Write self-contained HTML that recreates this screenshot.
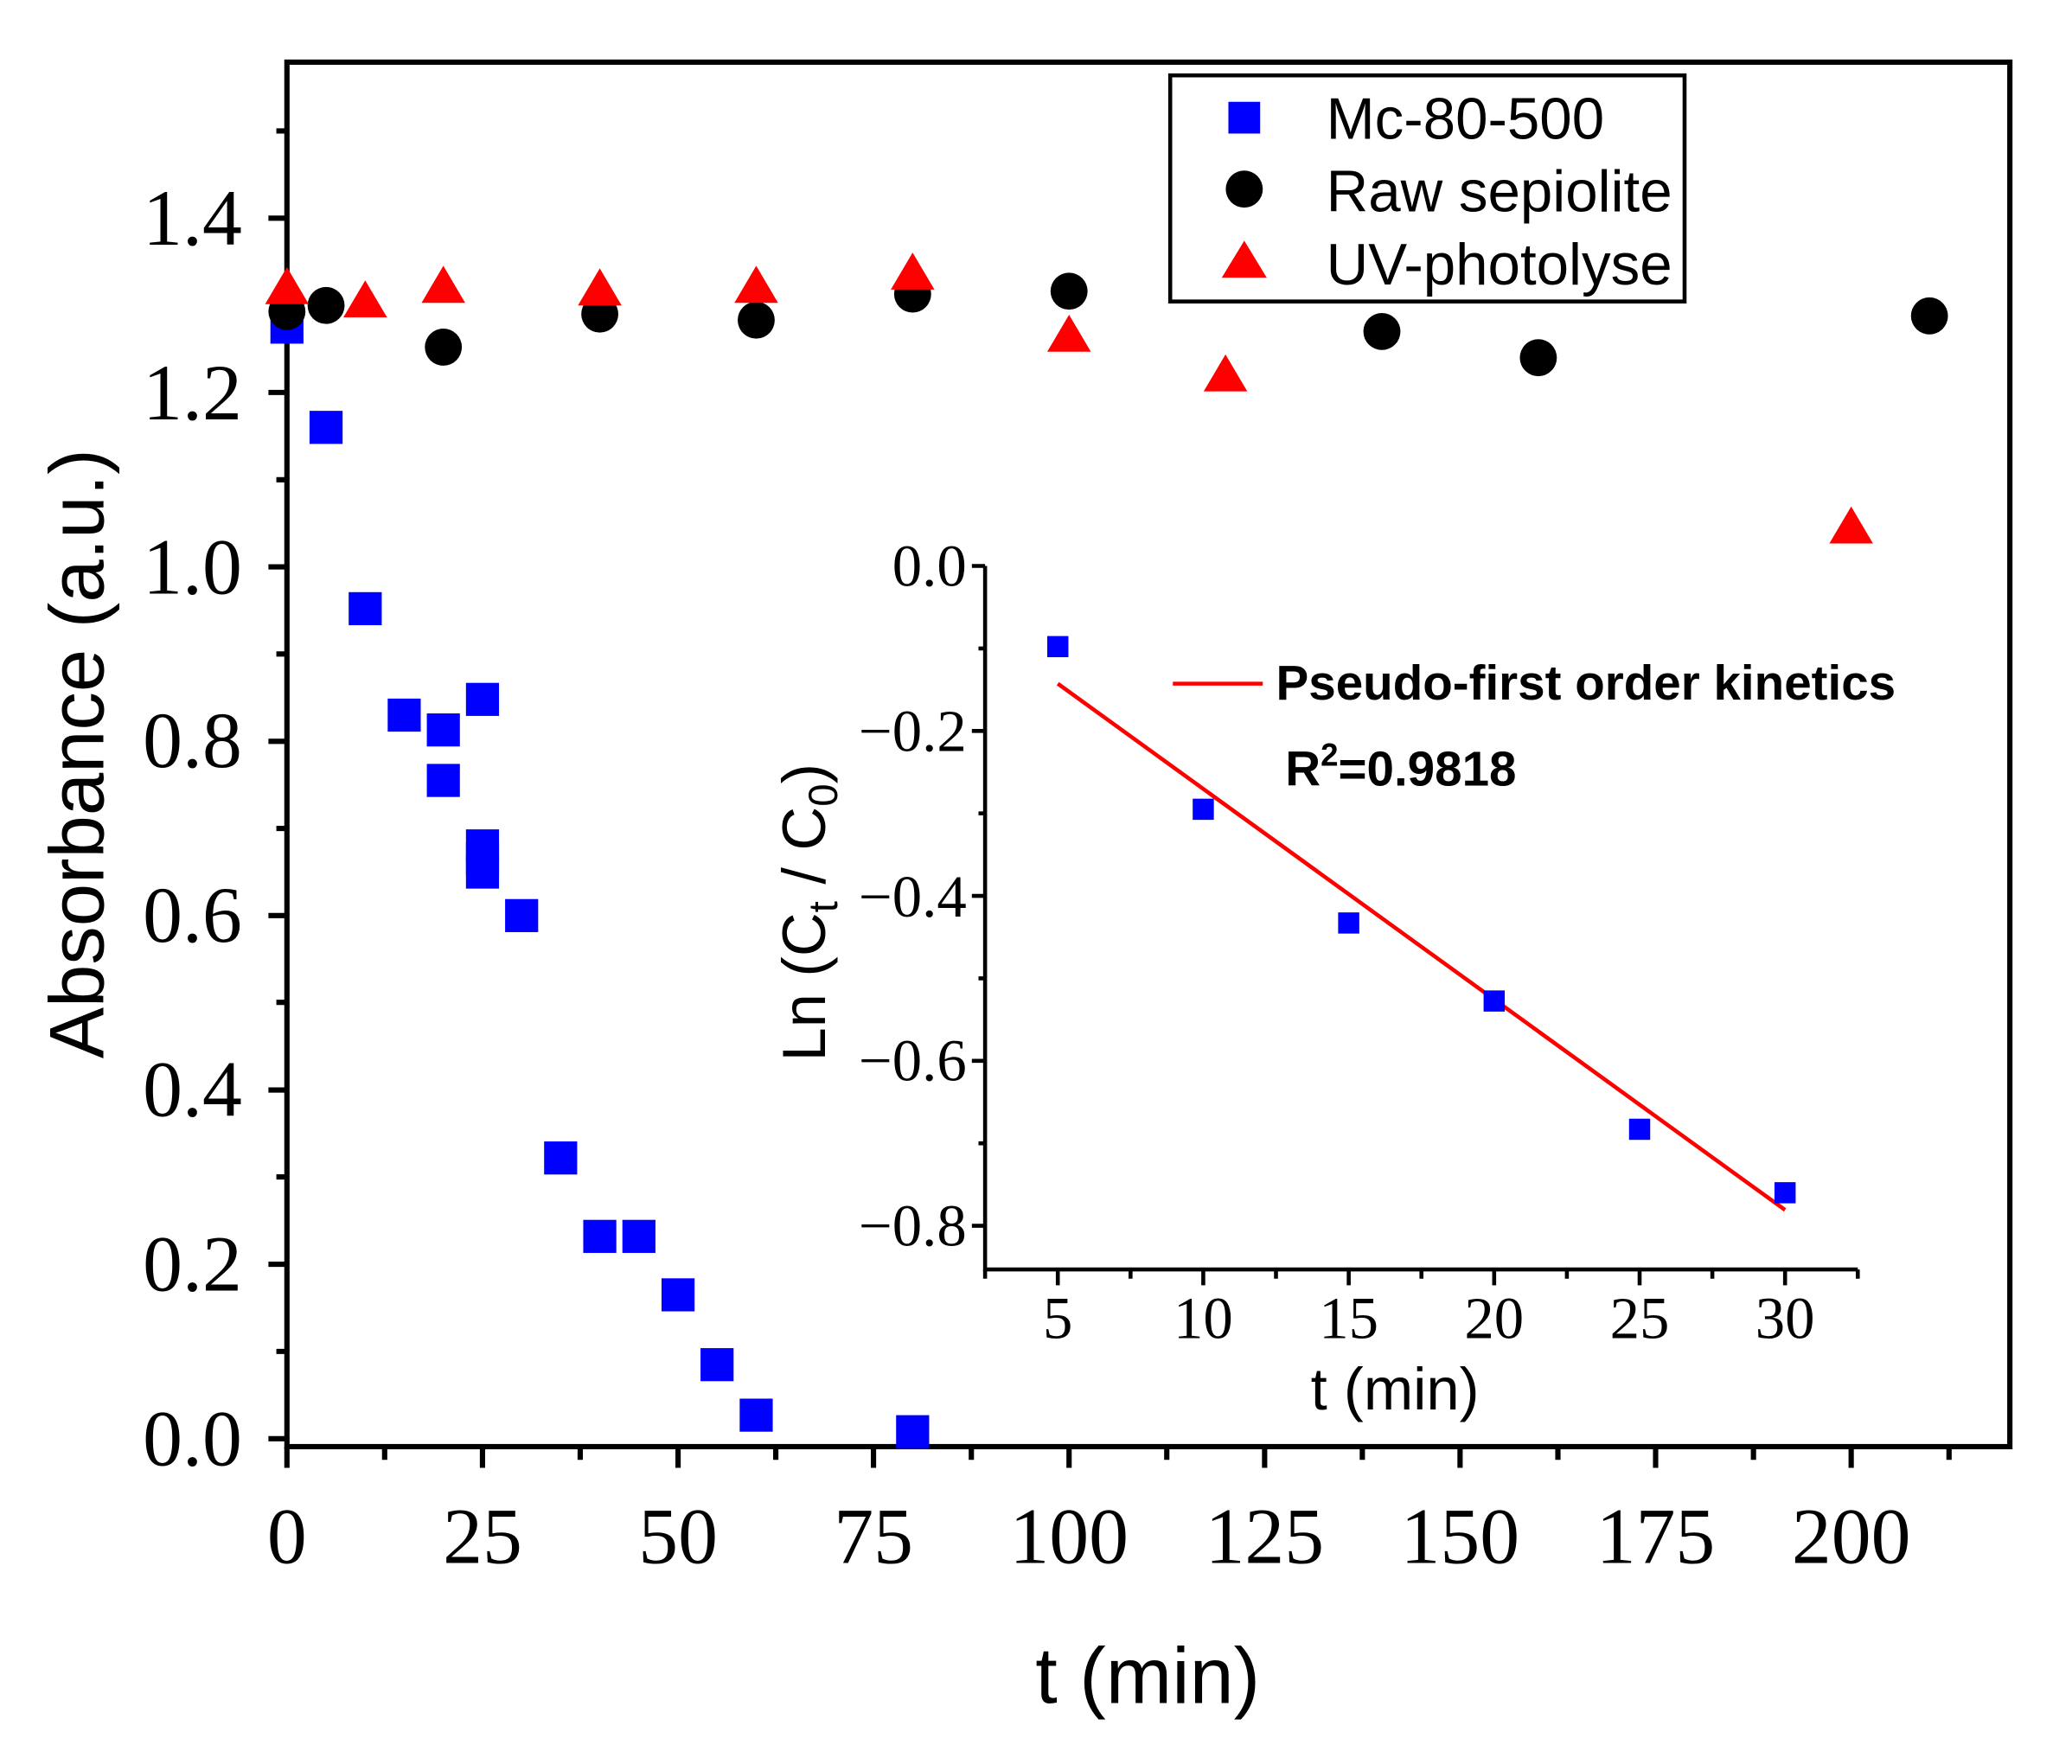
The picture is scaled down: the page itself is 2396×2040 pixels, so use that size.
<!DOCTYPE html>
<html><head><meta charset="utf-8"><style>
html,body{margin:0;padding:0;background:#fff}
svg{display:block}
.tm{font-family:"Liberation Serif",serif}
.sn{font-family:"Liberation Sans",sans-serif}
</style></head><body>
<svg width="2396" height="2040" viewBox="0 0 1567 1334" preserveAspectRatio="none" xmlns="http://www.w3.org/2000/svg">
<rect width="1567" height="1334" fill="#fff"/>
<rect x="217" y="47" width="1303" height="1047" fill="none" stroke="#000" stroke-width="4"/>
<g stroke="#000" stroke-width="4">
<path d="M203 1088H217M203 956.1H217M203 824.3H217M203 692.4H217M203 560.6H217M203 428.7H217M203 296.8H217M203 165H217"/>
<path d="M209 1022H217M209 890H217M209 758H217M209 626.5H217M209 494.6H217M209 362.8H217M209 231H217M209 99H217"/>
<path d="M217 1094V1110M364.9 1094V1110M512.8 1094V1110M660.6 1094V1110M808.5 1094V1110M956.4 1094V1110M1104.2 1094V1110M1252.1 1094V1110M1400 1094V1110"/>
<path d="M290.9 1094V1104M438.8 1094V1104M586.7 1094V1104M734.6 1094V1104M882.4 1094V1104M1030.3 1094V1104M1178.2 1094V1104M1326.1 1094V1104M1474 1094V1104"/>
</g>
<g class="tm" font-size="60" text-anchor="end" fill="#000">
<text x="183" y="1108">0.0</text><text x="183" y="976">0.2</text><text x="183" y="844">0.4</text><text x="183" y="712">0.6</text><text x="183" y="580">0.8</text><text x="183" y="449">1.0</text><text x="183" y="317">1.2</text><text x="183" y="185">1.4</text>
</g>
<g class="tm" font-size="60" text-anchor="middle" fill="#000">
<text x="217" y="1182">0</text><text x="364.9" y="1182">25</text><text x="512.8" y="1182">50</text><text x="660.6" y="1182">75</text><text x="808.5" y="1182">100</text><text x="956.4" y="1182">125</text><text x="1104.2" y="1182">150</text><text x="1252.1" y="1182">175</text><text x="1400" y="1182">200</text>
</g>
<text class="sn" font-size="60" text-anchor="middle" x="868" y="1288">t (min)</text>
<text class="sn" font-size="58" text-anchor="middle" transform="translate(78,570) rotate(-90)">Absorbance (a.u.)</text>

<g fill="#0000ff">
<rect x="204.5" y="234.9" width="25" height="25"/><rect x="234.1" y="310.7" width="25" height="25"/><rect x="263.7" y="447.8" width="25" height="25"/><rect x="293.2" y="528.3" width="25" height="25"/><rect x="322.8" y="539.5" width="25" height="25"/><rect x="322.8" y="577.7" width="25" height="25"/><rect x="352.4" y="516.4" width="25" height="25"/><rect x="352.4" y="627.2" width="25" height="25"/><rect x="352.4" y="637.1" width="25" height="25"/><rect x="352.4" y="647" width="25" height="25"/><rect x="382" y="679.9" width="25" height="25"/><rect x="411.5" y="863.2" width="25" height="25"/><rect x="441.1" y="922.5" width="25" height="25"/><rect x="470.7" y="922.5" width="25" height="25"/><rect x="500.3" y="966.7" width="25" height="25"/><rect x="529.8" y="1019.5" width="25" height="25"/><rect x="559.4" y="1057.7" width="25" height="25"/><rect x="677.7" y="1070.2" width="25" height="25"/>
</g>
<g fill="#000">
<circle cx="217" cy="235.6" r="14"/><circle cx="246.6" cy="231" r="14"/><circle cx="335.3" cy="262.5" r="14"/><circle cx="453.6" cy="237.5" r="14"/><circle cx="571.9" cy="242.1" r="14"/><circle cx="690.2" cy="222.4" r="14"/><circle cx="808.5" cy="220.2" r="14"/><circle cx="1045.1" cy="250.7" r="14"/><circle cx="1163.4" cy="270.5" r="14"/><circle cx="1459.2" cy="238.9" r="14"/>
</g>
<g fill="#ff0000">
<polygon points="200.5,230 233.5,230 217,202"/>
<polygon points="259.7,240 292.7,240 276.2,212"/>
<polygon points="318.8,229 351.8,229 335.3,201"/>
<polygon points="437.1,231 470.1,231 453.6,203"/>
<polygon points="555.4,229 588.4,229 571.9,201"/>
<polygon points="673.7,219 706.7,219 690.2,191"/>
<polygon points="792,266 825,266 808.5,238"/>
<polygon points="910.3,296 943.3,296 926.8,268"/>
<polygon points="1383.5,411 1416.5,411 1400,383"/>
</g>

<rect x="885" y="57" width="389" height="171" fill="#fff" stroke="#000" stroke-width="3"/>
<rect x="929" y="77" width="24" height="24" fill="#0000ff"/>
<circle cx="941" cy="143" r="14" fill="#000"/>
<polygon points="924,210 958,210 941,182" fill="#ff0000"/>
<g class="sn" font-size="44" fill="#000">
<text x="1003" y="105">Mc-80-500</text><text x="1003" y="160">Raw sepiolite</text><text x="1003" y="215">UV-photolyse</text>
</g>

<!-- inset -->
<g stroke="#000" stroke-width="3" fill="none">
<path d="M745 428V960H1405"/>
<path d="M735 428H745M735 552.75H745M735 677.5H745M735 802.25H745M735 927H745"/>
<path d="M740 490.4H745M740 615.1H745M740 739.9H745M740 864.6H745"/>
<path d="M800 960V972M910 960V972M1020 960V972M1130 960V972M1240 960V972M1350 960V972"/>
<path d="M745 960V967M855 960V967M965 960V967M1075 960V967M1185 960V967M1295 960V967M1405 960V967"/>
</g>
<g class="tm" font-size="45" text-anchor="end" fill="#000">
<text x="731" y="443">0.0</text><text x="731" y="568">−0.2</text><text x="731" y="693">−0.4</text><text x="731" y="817">−0.6</text><text x="731" y="942">−0.8</text>
</g>
<g class="tm" font-size="45" text-anchor="middle" fill="#000">
<text x="800" y="1012">5</text><text x="910" y="1012">10</text><text x="1020" y="1012">15</text><text x="1130" y="1012">20</text><text x="1240" y="1012">25</text><text x="1350" y="1012">30</text>
</g>
<text class="sn" font-size="45" text-anchor="middle" x="1055" y="1066">t (min)</text>
<text class="sn" font-size="46" text-anchor="middle" transform="translate(624,690) rotate(-90)">Ln (C<tspan font-size="31" dy="9">t</tspan><tspan dy="-9"> / C</tspan><tspan font-size="31" dy="9">0</tspan><tspan dy="-9">)</tspan></text>
<line x1="800" y1="517" x2="1350" y2="915" stroke="#ff0000" stroke-width="3"/>
<g fill="#0000ff">
<rect x="792" y="481" width="16" height="16"/><rect x="902" y="604" width="16" height="16"/><rect x="1012" y="690" width="16" height="16"/><rect x="1122" y="749" width="16" height="16"/><rect x="1232" y="846" width="16" height="16"/><rect x="1342" y="894" width="16" height="16"/>
</g>
<line x1="887" y1="517" x2="955" y2="517" stroke="#ff0000" stroke-width="3"/>
<text class="sn" font-size="37" font-weight="bold" x="965" y="529">Pseudo-first order kinetics</text>
<text class="sn" font-size="37" font-weight="bold" x="972" y="594">R<tspan font-size="24" dy="-15">2</tspan><tspan dy="15">=0.9818</tspan></text>
</svg>
</body></html>
